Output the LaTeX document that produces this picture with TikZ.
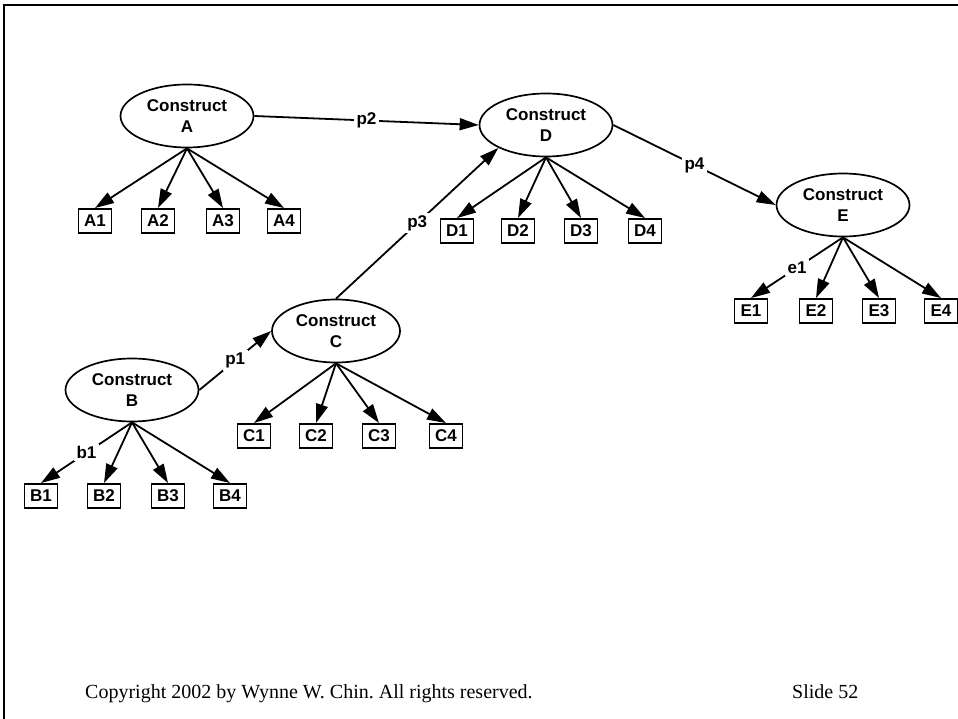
\documentclass[tikz,border=0pt]{standalone}
\usepackage{fontspec}
\setmainfont{Liberation Serif}
\setsansfont{Liberation Sans}
\usepackage{tikz}
\usetikzlibrary{arrows.meta,positioning,shapes.geometric}

\begin{document}
\frenchspacing
\begin{tikzpicture}[
  x=1pt, y=-1pt,
  >={Triangle[length=19pt, width=12pt]},
  construct/.style={draw, ellipse, line width=1.7pt, align=center, inner sep=0pt,
    minimum width=133pt, minimum height=63pt,
    font=\sffamily\bfseries\fontsize{17}{21}\selectfont},
  indicator/.style={draw, line width=1.9pt, inner sep=0pt,
    minimum width=33pt, minimum height=24pt,
    font=\sffamily\bfseries\fontsize{17}{20}\selectfont},
  lbl/.style={fill=white, inner sep=2.5pt, font=\sffamily\bfseries\fontsize{17}{20}\selectfont},
  link/.style={draw, ->, line width=1.8pt}
]
  \useasboundingbox (0,0) rectangle (958,719);
  % slide frame
  \draw[line width=1.6pt] (4,719) -- (4,5) -- (958,5);

  % constructs
  \node[construct] (A) at (187,116) {Construct\\A};
  \node[construct] (D) at (546,125) {Construct\\D};
  \node[construct] (E) at (843,205) {Construct\\E};
  \node[construct, minimum width=128pt] (C) at (336,331) {Construct\\C};
  \node[construct] (B) at (132,390) {Construct\\B};

  % indicators
  \node[indicator] (A1) at (95,221) {A1};
  \node[indicator] (A2) at (158,221) {A2};
  \node[indicator] (A3) at (223,221) {A3};
  \node[indicator] (A4) at (284,221) {A4};
  \node[indicator] (D1) at (457,231) {D1};
  \node[indicator] (D2) at (518,231) {D2};
  \node[indicator] (D3) at (581,231) {D3};
  \node[indicator] (D4) at (645,231) {D4};
  \node[indicator] (E1) at (751,311) {E1};
  \node[indicator] (E2) at (816,311) {E2};
  \node[indicator] (E3) at (879,311) {E3};
  \node[indicator] (E4) at (941,311) {E4};
  \node[indicator] (C1) at (254,436) {C1};
  \node[indicator] (C2) at (316,436) {C2};
  \node[indicator] (C3) at (379,436) {C3};
  \node[indicator] (C4) at (446,436) {C4};
  \node[indicator] (B1) at (41,496) {B1};
  \node[indicator] (B2) at (104,496) {B2};
  \node[indicator] (B3) at (168,496) {B3};
  \node[indicator] (B4) at (230,496) {B4};

  % paths between constructs
  \draw[link] (A.east) -- node[lbl] {p2} (D.west);
  \draw[link] (D.east) -- node[lbl] {p4} (E.west);
  \draw[link] (C.north) -- node[lbl] {p3} (D.south west);
  \draw[link] (B.east) -- node[lbl] {p1} (C.west);

  % loadings
  \draw[link] (A.south) -- (A1.north);
  \draw[link] (A.south) -- (A2.north);
  \draw[link] (A.south) -- (A3.north);
  \draw[link] (A.south) -- (A4.north);
  \draw[link] (D.south) -- (D1.north);
  \draw[link] (D.south) -- (D2.north);
  \draw[link] (D.south) -- (D3.north);
  \draw[link] (D.south) -- (D4.north);
  \draw[link] (E.south) -- node[lbl] {e1} (E1.north);
  \draw[link] (E.south) -- (E2.north);
  \draw[link] (E.south) -- (E3.north);
  \draw[link] (E.south) -- (E4.north);
  \draw[link] (C.south) -- (C1.north);
  \draw[link] (C.south) -- (C2.north);
  \draw[link] (C.south) -- (C3.north);
  \draw[link] (C.south) -- (C4.north);
  \draw[link] (B.south) -- node[lbl] {b1} (B1.north);
  \draw[link] (B.south) -- (B2.north);
  \draw[link] (B.south) -- (B3.north);
  \draw[link] (B.south) -- (B4.north);

  % footer
  \node[anchor=base west, inner sep=0pt, font=\fontsize{20}{24}\selectfont] (copy) at (85,698)
    {Copyright 2002 by Wynne W. Chin. All rights reserved.};
  \node[anchor=base west, inner sep=0pt, font=\fontsize{20}{24}\selectfont] (slide) at (792,698)
    {Slide 52};
\end{tikzpicture}
\end{document}
